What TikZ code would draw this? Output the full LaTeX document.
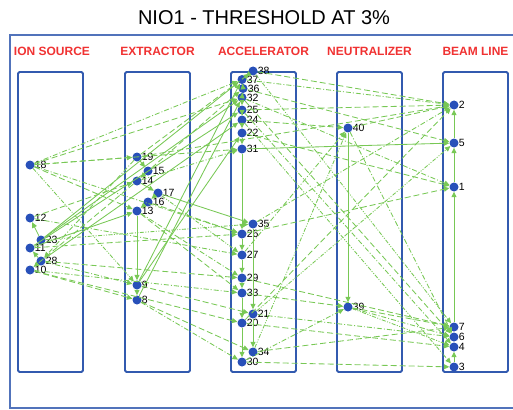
\documentclass[tikz,border=0pt]{standalone}
\usepackage{fontspec}
\setmainfont{Liberation Sans}
\usetikzlibrary{arrows.meta}
\definecolor{frameblue}{RGB}{50,90,175}
\definecolor{dotblue}{RGB}{40,80,185}
\definecolor{lgreen}{RGB}{120,200,85}
\definecolor{lred}{RGB}{240,50,50}
\begin{document}
\begin{tikzpicture}[x=1pt,y=-1pt,label distance=0pt,
  dot/.style={circle,fill=dotblue,inner sep=0pt,minimum size=9pt},
  lbl/.style={font=\fontsize{10.5}{11}\selectfont,inner sep=0pt},
  col/.style={draw=frameblue,line width=1.8pt,rounded corners=1.5pt},
  hdr/.style={text=lred,font=\bfseries\fontsize{12}{12}\selectfont},
  ge/.style={draw=lgreen,line width=0.85pt,-{Triangle[length=5.5pt,width=5pt]}},
  gsl/.style={ge},
  gds/.style={ge,dash pattern=on 6pt off 3pt},
  gdd/.style={ge,dash pattern=on 5pt off 2pt on 1pt off 2pt},
  gddd/.style={ge,dash pattern=on 4pt off 1.5pt on 1pt off 1.5pt on 1pt off 1.5pt}]
\useasboundingbox (0,0) rectangle (513,409);
% outer frame
\draw[frameblue!85,line width=1.4pt] (515,35) -- (10,35) -- (10,408) -- (515,408);
% title and headers
\node[font=\fontsize{20}{20}\selectfont] (title) at (264,18) {NIO1 - THRESHOLD AT 3\%};
\node[hdr] (h1) at (52,51) {ION SOURCE};
\node[hdr] (h2) at (157.5,51) {EXTRACTOR};
\node[hdr] (h3) at (263.5,51) {ACCELERATOR};
\node[hdr] (h4) at (369.5,51) {NEUTRALIZER};
\node[hdr] (h5) at (475.5,51) {BEAM LINE};
% column boxes
\draw[col] (18,72) rectangle (83,372);
\draw[col] (125,72) rectangle (190,372);
\draw[col] (231,72) rectangle (296,372);
\draw[col] (337,72) rectangle (402,372);
\draw[col] (443,72) rectangle (508,372);
% nodes
\node[dot,label={[lbl]right:1}] (n1) at (454,187) {};
\node[dot,label={[lbl]right:2}] (n2) at (454,105) {};
\node[dot,label={[lbl]right:3}] (n3) at (454,367) {};
\node[dot,label={[lbl]right:4}] (n4) at (454,347) {};
\node[dot,label={[lbl]right:5}] (n5) at (454,143) {};
\node[dot,label={[lbl]right:6}] (n6) at (454,337) {};
\node[dot,label={[lbl]right:7}] (n7) at (454,327) {};
\node[dot,label={[lbl]right:8}] (n8) at (137,300) {};
\node[dot,label={[lbl]right:9}] (n9) at (137,285) {};
\node[dot,label={[lbl]right:10}] (n10) at (30,270) {};
\node[dot,label={[lbl]right:11}] (n11) at (30,248) {};
\node[dot,label={[lbl]right:12}] (n12) at (30,218) {};
\node[dot,label={[lbl]right:13}] (n13) at (137,211) {};
\node[dot,label={[lbl]right:14}] (n14) at (137,181) {};
\node[dot,label={[lbl]right:15}] (n15) at (148,171) {};
\node[dot,label={[lbl]right:16}] (n16) at (148,202) {};
\node[dot,label={[lbl]right:17}] (n17) at (158,193) {};
\node[dot,label={[lbl]right:18}] (n18) at (30,165) {};
\node[dot,label={[lbl]right:19}] (n19) at (137,157) {};
\node[dot,label={[lbl]right:20}] (n20) at (242,323) {};
\node[dot,label={[lbl]right:21}] (n21) at (253,314) {};
\node[dot,label={[lbl]right:22}] (n22) at (242,133) {};
\node[dot,label={[lbl]right:23}] (n23) at (41,240) {};
\node[dot,label={[lbl]right:24}] (n24) at (242,120) {};
\node[dot,label={[lbl]right:25}] (n25) at (242,110) {};
\node[dot,label={[lbl]right:26}] (n26) at (242,234) {};
\node[dot,label={[lbl]right:27}] (n27) at (242,255) {};
\node[dot,label={[lbl]right:28}] (n28) at (41,261) {};
\node[dot,label={[lbl]right:29}] (n29) at (242,278) {};
\node[dot,label={[lbl]right:30}] (n30) at (242,362) {};
\node[dot,label={[lbl]right:31}] (n31) at (242,149) {};
\node[dot,label={[lbl]right:32}] (n32) at (242,97.5) {};
\node[dot,label={[lbl]right:33}] (n33) at (242,293) {};
\node[dot,label={[lbl]right:34}] (n34) at (253,352) {};
\node[dot,label={[lbl]right:35}] (n35) at (253,224) {};
\node[dot,label={[lbl]right:36}] (n36) at (243,88.5) {};
\node[dot,label={[lbl]right:37}] (n37) at (242,79.5) {};
\node[dot,label={[lbl]right:38}] (n38) at (253,71) {};
\node[dot,label={[lbl]right:39}] (n39) at (348,307) {};
\node[dot,label={[lbl]right:40}] (n40) at (348,128) {};
% ion source edges
\draw[gds] (n18) -- (n19);
\draw[gds] (n18) -- (n32);
\draw[gdd] (n18) -- (n37);
\draw[gds] (n18) -- (n31);
\draw[gdd] (n18) -- (n26);
\draw[gddd] (n18) -- (n9);
\draw[gds] (n18) -- (n13);
\draw[gds] (n12) -- (n14);
\draw[gdd] (n12) -- (n27);
\draw[gsl] (n23) -- (n12);
\draw[gsl] (n23) -- (n37);
\draw[gsl] (n23) -- (n32);
\draw[gsl] (n11) -- (n25);
\draw[gsl] (n11) -- (n13);
\draw[gsl] (n28) -- (n24);
\draw[gds] (n28) -- (n29);
\draw[gdd] (n10) -- (n33);
\draw[gds] (n10) -- (n20);
\draw[gds] (n11) -- (n26);
\draw[gddd] (n23) -- (n35);
\draw[gds] (n10) -- (n8);
\draw[gdd] (n28) -- (n9);
\draw[gsl] (n28) -- (n11);
% extractor edges
\draw[gsl] (n19) -- (n15);
\draw[gsl] (n15) -- (n14);
\draw[gsl] (n14) -- (n17);
\draw[gsl] (n17) -- (n16);
\draw[gsl] (n16) -- (n13);
\draw[gsl] (n13) -- (n9);
\draw[gsl] (n9) -- (n8);
\draw[gsl] (n9) -- (n37);
\draw[gsl] (n8) -- (n32);
\draw[gsl] (n9) -- (n22);
\draw[gds] (n19) -- (n38);
\draw[gds] (n19) -- (n2);
\draw[gds] (n15) -- (n36);
\draw[gdd] (n14) -- (n31);
\draw[gddd] (n17) -- (n27);
\draw[gds] (n16) -- (n26);
\draw[gdd] (n13) -- (n29);
\draw[gds] (n9) -- (n21);
\draw[gdd] (n8) -- (n30);
\draw[gds] (n8) -- (n34);
\draw[gsl] (n17) -- (n35);
\draw[gds] (n13) -- (n33);
\draw[gdd] (n19) -- (n28);
\draw[gds] (n14) -- (n10);
% accelerator internal
\draw[gsl] (n38) -- (n37);
\draw[gsl] (n37) -- (n36);
\draw[gsl] (n36) -- (n32);
\draw[gsl] (n32) -- (n25);
\draw[gsl] (n25) -- (n24);
\draw[gsl] (n24) -- (n22);
\draw[gsl] (n22) -- (n31);
\draw[gsl] (n31) -- (n26);
\draw[gsl] (n26) -- (n27);
\draw[gsl] (n27) -- (n29);
\draw[gsl] (n29) -- (n33);
\draw[gsl] (n33) -- (n20);
\draw[gsl] (n20) -- (n30);
\draw[gsl] (n35) -- (n21);
\draw[gsl] (n21) -- (n34);
% accelerator to the right
\draw[gds] (n38) -- (n2);
\draw[gdd] (n37) -- (n2);
\draw[gds] (n36) -- (n5);
\draw[gdd] (n32) -- (n1);
\draw[gds] (n25) -- (n2);
\draw[gds] (n24) -- (n40);
\draw[gsl] (n31) -- (n5);
\draw[gds] (n22) -- (n1);
\draw[gddd] (n38) -- (n7);
\draw[gds] (n32) -- (n6);
\draw[gdd] (n25) -- (n4);
\draw[gddd] (n24) -- (n3);
\draw[gdd] (n35) -- (n2);
\draw[gds] (n26) -- (n1);
\draw[gdd] (n27) -- (n40);
\draw[gds] (n29) -- (n7);
\draw[gds] (n33) -- (n39);
\draw[gdd] (n21) -- (n6);
\draw[gds] (n20) -- (n4);
\draw[gds] (n34) -- (n7);
\draw[gds] (n30) -- (n3);
\draw[gdd] (n30) -- (n39);
\draw[gddd] (n34) -- (n40);
\draw[gddd] (n21) -- (n5);
\draw[gds] (n20) -- (n2);
% neutralizer
\draw[gsl] (n40) -- (n39);
\draw[gds] (n40) -- (n2);
\draw[gdd] (n40) -- (n6);
\draw[gds] (n39) -- (n7);
\draw[gdd] (n39) -- (n6);
\draw[gddd] (n39) -- (n4);
% beam line
\draw[gsl] (n5) -- (n2);
\draw[gsl] (n1) -- (n5);
\draw[gsl] (n7) -- (n1);
\draw[gsl] (n3) -- (n4);
\end{tikzpicture}
\end{document}
